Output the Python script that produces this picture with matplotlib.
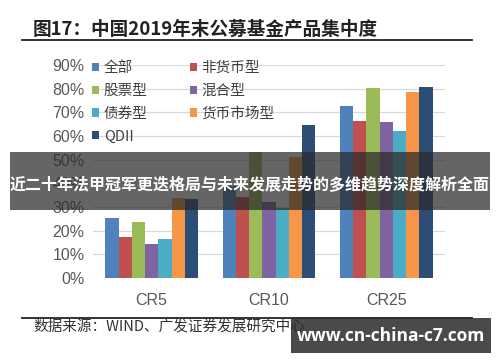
import numpy as np
import matplotlib
matplotlib.use('Agg')
import matplotlib.pyplot as plt
from matplotlib.patches import Rectangle

plt.rcParams['font.family'] = ['Noto Sans CJK SC', 'DejaVu Sans']

groups = ['CR5', 'CR10', 'CR25']
series = ['全部', '非货币型', '股票型', '混合型', '债券型', '货币市场型', 'QDII']
values = {
    '全部':     [25.5, 39.0, 72.7],
    '非货币型': [17.2, 34.3, 66.4],
    '股票型':   [23.5, 53.3, 80.5],
    '混合型':   [14.5, 32.2, 66.1],
    '债券型':   [16.5, 29.4, 62.0],
    '货币市场型': [33.7, 51.2, 78.7],
    'QDII':     [33.2, 64.5, 80.8],
}
colors = ['#4F81BD', '#C0504D', '#9BBB59', '#8064A2', '#4BACC6', '#F79646', '#2C4D75']
yticks = [0, 10, 20, 30, 40, 50, 60, 70, 80, 90]

fig = plt.figure(figsize=(5, 3.62), dpi=100)
ax = fig.add_axes([0.186, 0.232, 0.704, 0.588])

x = np.arange(len(groups))
w = 0.113
bars = {}
for i, (name, c) in enumerate(zip(series, colors)):
    offs = (i - 3) * w
    bars[name] = ax.bar(x + offs, values[name], w, color=c, label=name, zorder=3)

ax.set_xlim(-0.5, 2.5)
ax.set_ylim(0, 90)
ax.set_yticks(yticks)
ax.set_yticklabels([f'{t}%' for t in yticks], family=['Liberation Sans', 'DejaVu Sans'])
ax.set_xticks(x)
ax.set_xticklabels(groups, family=['Liberation Sans', 'DejaVu Sans'])
ax.tick_params(axis='both', length=0, labelsize=11.5, colors='#595959')
ax.tick_params(axis='y', pad=6)
ax.tick_params(axis='x', pad=11)
ax.grid(axis='y', color='#D9D9D9', linewidth=0.9, zorder=0)
for s in ax.spines.values():
    s.set_visible(False)

order = ['全部', '股票型', '债券型', 'QDII', '非货币型', '混合型', '货币市场型']
leg = ax.legend([bars[n] for n in order], order, ncol=2, loc='upper left',
                bbox_to_anchor=(-0.04, 1.08), frameon=False, fontsize=10.5,
                handlelength=0.5, handleheight=0.5, handletextpad=0.3,
                labelspacing=0.6, columnspacing=2.9)
for t in leg.get_texts():
    t.set_color('#404040')
leg.set_zorder(5)

# title and rules
fig.text(0.066, 0.918, '图17：中国2019年末公募基金产品集中度', fontsize=13.4, fontweight='bold',
         color='#222222', va='center')
fig.add_artist(plt.Line2D([0.044, 0.943], [0.889, 0.889], color='#222222', linewidth=1.3))
fig.add_artist(plt.Line2D([0.044, 0.943], [0.121, 0.121], color='#222222', linewidth=1.3))
fig.text(0.066, 0.095, '数据来源：WIND、广发证券发展研究中心', fontsize=10.5, color='#333333', va='center')

# overlay banners
fig.add_artist(Rectangle((0.02, 1 - 210 / 362), 0.96, 58 / 362, transform=fig.transFigure,
                         facecolor='#2a2a2a', alpha=0.72, edgecolor='none', zorder=10))
fig.text(0.5, 1 - 184 / 362, '近二十年法甲冠军更迭格局与未来发展走势的多维趋势深度解析全面',
         fontsize=11.5, fontweight='bold', color='white', ha='center', va='center', zorder=11)
fig.add_artist(Rectangle((0.582, 1 - 353 / 362), 0.4, 35 / 362, transform=fig.transFigure,
                         facecolor='#2a2a2a', alpha=0.85, edgecolor='none', zorder=10))
fig.text(0.782, 1 - 336 / 362, 'www.cn-china-c7.com', fontsize=12.5, fontweight='bold',
         color='white', ha='center', va='center', zorder=11, family=['Open Sans', 'DejaVu Sans'])

fig.savefig('out.png', dpi=100)
